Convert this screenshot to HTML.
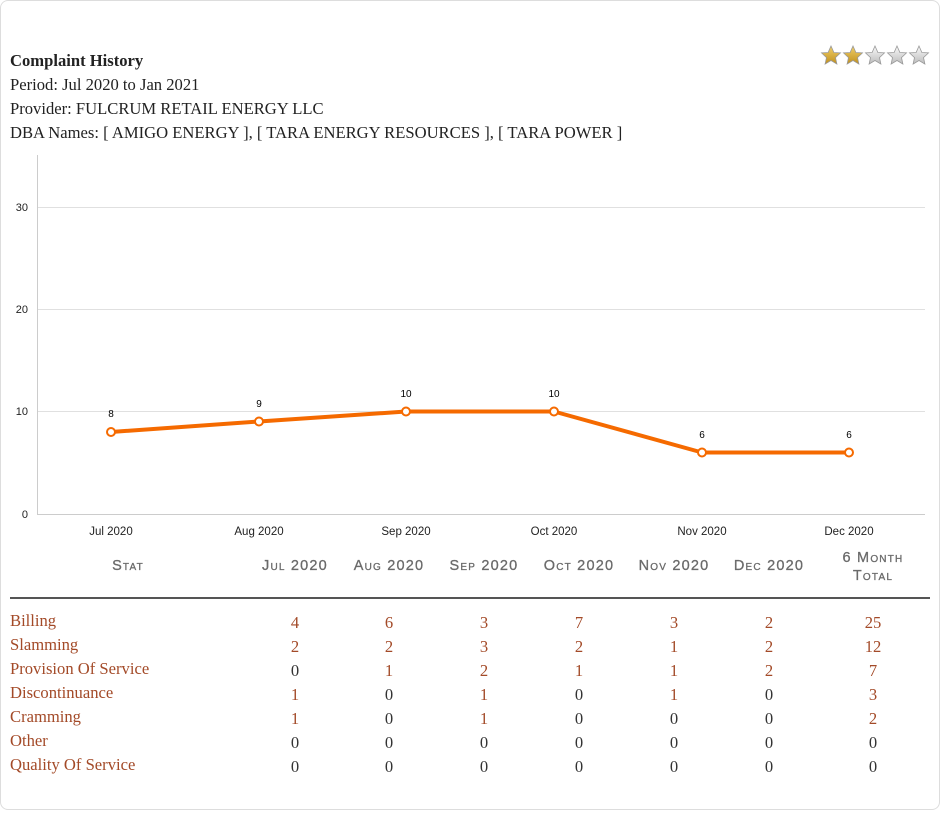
<!DOCTYPE html>
<html><head><meta charset="utf-8"><style>
body{margin:0;background:#fff;}
.wrap{position:absolute;left:0;top:0;width:938px;height:808px;border:1px solid #ddd;border-radius:8px;background:#fff;}
.t{position:absolute;font-family:"Liberation Serif",serif;font-size:16.6px;color:#222;white-space:nowrap;}
.h{position:absolute;font-family:"Liberation Sans",sans-serif;font-variant:small-caps;font-size:14.5px;color:#6a6a6a;text-align:center;letter-spacing:1.2px;white-space:nowrap;-webkit-text-stroke:0.3px #6a6a6a;}
.c{position:absolute;font-family:"Liberation Serif",serif;font-size:16.6px;text-align:center;width:60px;}
.br{color:#a34a28}.dk{color:#333}
</style></head><body>
<div class="wrap"></div>
<div class="t" style="left:10px;top:51px;font-weight:bold">Complaint History</div>
<div class="t" style="left:10px;top:75px">Period: Jul 2020 to Jan 2021</div>
<div class="t" style="left:10px;top:99px">Provider: FULCRUM RETAIL ENERGY LLC</div>
<div class="t" style="left:10px;top:123px">DBA Names: [ AMIGO ENERGY ], [ TARA ENERGY RESOURCES ], [ TARA POWER ]</div>
<svg style="position:absolute;left:0;top:0" width="940" height="820">
<defs><linearGradient id="g" x1="0" y1="0" x2="0" y2="1"><stop offset="0" stop-color="#f0cf6a"/><stop offset="1" stop-color="#c0901e"/></linearGradient>
<linearGradient id="s" x1="0" y1="0" x2="0" y2="1"><stop offset="0" stop-color="#fafafa"/><stop offset="1" stop-color="#bbb"/></linearGradient></defs>
<g stroke="#999" stroke-width="0.8">
<polygon transform="translate(831,56)" points="0,-10 2.9,-3.5 9.5,-3.1 4.5,1.6 5.9,8.1 0,4.5 -5.9,8.1 -4.5,1.6 -9.5,-3.1 -2.9,-3.5" fill="url(#g)"/>
<polygon transform="translate(853,56)" points="0,-10 2.9,-3.5 9.5,-3.1 4.5,1.6 5.9,8.1 0,4.5 -5.9,8.1 -4.5,1.6 -9.5,-3.1 -2.9,-3.5" fill="url(#g)"/>
<polygon transform="translate(875,56)" points="0,-10 2.9,-3.5 9.5,-3.1 4.5,1.6 5.9,8.1 0,4.5 -5.9,8.1 -4.5,1.6 -9.5,-3.1 -2.9,-3.5" fill="url(#s)"/>
<polygon transform="translate(897,56)" points="0,-10 2.9,-3.5 9.5,-3.1 4.5,1.6 5.9,8.1 0,4.5 -5.9,8.1 -4.5,1.6 -9.5,-3.1 -2.9,-3.5" fill="url(#s)"/>
<polygon transform="translate(919,56)" points="0,-10 2.9,-3.5 9.5,-3.1 4.5,1.6 5.9,8.1 0,4.5 -5.9,8.1 -4.5,1.6 -9.5,-3.1 -2.9,-3.5" fill="url(#s)"/>
</g>
<g stroke="#e0e0e0" stroke-width="1">
<line x1="37" y1="207.5" x2="925" y2="207.5"/><line x1="37" y1="309.5" x2="925" y2="309.5"/><line x1="37" y1="411.5" x2="925" y2="411.5"/>
</g>
<line x1="37.5" y1="155" x2="37.5" y2="515" stroke="#ccc"/>
<line x1="37" y1="514.5" x2="925" y2="514.5" stroke="#ccc"/>
<g font-family="Liberation Sans,sans-serif" font-size="11" fill="#222" text-anchor="end">
<text x="28" y="211">30</text><text x="28" y="313">20</text><text x="28" y="415">10</text><text x="28" y="518">0</text>
</g>
<g font-family="Liberation Sans,sans-serif" font-size="11.5" fill="#222" text-anchor="middle">
<text x="111" y="535">Jul 2020</text><text x="259" y="535">Aug 2020</text><text x="406" y="535">Sep 2020</text><text x="554" y="535">Oct 2020</text><text x="702" y="535">Nov 2020</text><text x="849" y="535">Dec 2020</text>
</g>
<polyline points="111,432 259,421.5 406,411.5 554,411.5 702,452.5 849,452.5" fill="none" stroke="#f56a00" stroke-width="4" stroke-linejoin="round"/>
<g fill="#fff" stroke="#f56a00" stroke-width="2">
<circle cx="111" cy="432" r="4"/><circle cx="259" cy="421.5" r="4"/><circle cx="406" cy="411.5" r="4"/><circle cx="554" cy="411.5" r="4"/><circle cx="702" cy="452.5" r="4"/><circle cx="849" cy="452.5" r="4"/>
</g>
<g font-family="Liberation Sans,sans-serif" font-size="10" fill="#000" text-anchor="middle">
<text x="111" y="417">8</text><text x="259" y="407">9</text><text x="406" y="397">10</text><text x="554" y="397">10</text><text x="702" y="438">6</text><text x="849" y="438">6</text>
</g>
<line x1="10" y1="598" x2="930" y2="598" stroke="#555" stroke-width="2"/>
</svg>
<div class="h" style="left:83px;top:558px;width:90px">Stat</div>
<div class="h" style="left:250px;top:558px;width:90px">Jul 2020</div>
<div class="h" style="left:344px;top:558px;width:90px">Aug 2020</div>
<div class="h" style="left:439px;top:558px;width:90px">Sep 2020</div>
<div class="h" style="left:534px;top:558px;width:90px">Oct 2020</div>
<div class="h" style="left:629px;top:558px;width:90px">Nov 2020</div>
<div class="h" style="left:724px;top:558px;width:90px">Dec 2020</div>
<div class="h" style="left:828px;top:549px;width:90px;line-height:18px">6 Month<br>Total</div>
<div id="rows"></div>
<script>
var d=[["Billing",4,6,3,7,3,2,25],["Slamming",2,2,3,2,1,2,12],["Provision Of Service",0,1,2,1,1,2,7],["Discontinuance",1,0,1,0,1,0,3],["Cramming",1,0,1,0,0,0,2],["Other",0,0,0,0,0,0,0],["Quality Of Service",0,0,0,0,0,0,0]];
var cx=[295,389,484,579,674,769,873],h="";
d.forEach(function(r,i){var y=611+i*24;h+='<div class="t br" style="left:10px;top:'+y+'px;color:#a34a28">'+r[0]+'</div>';
for(var j=1;j<8;j++){h+='<div class="c '+(r[j]?'br':'dk')+'" style="left:'+(cx[j-1]-30)+'px;top:'+(y+2)+'px">'+r[j]+'</div>';}});
document.getElementById('rows').innerHTML=h;
</script>
</body></html>
